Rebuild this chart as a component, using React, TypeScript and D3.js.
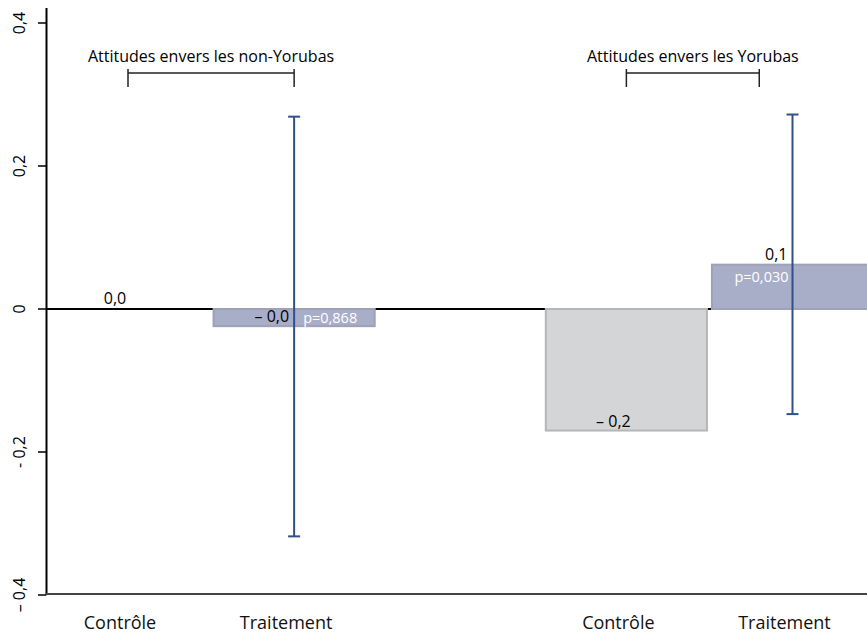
import React from "react";
import * as d3 from "d3";

const W = 867;
const H = 634;

// --- data ---
const groupTitles = ["Attitudes envers les non-Yorubas", "Attitudes envers les Yorubas"];
const groupBracketFrom = [0, 3];
const groupBracketTo = [1, 3.8];
const categories = ["Contrôle", "Traitement", "Contrôle", "Traitement"];
const arms = ["C", "T", "C", "T"];
const slots = [0, 1, 3, 4];
const values = [0.0, -0.024, -0.17, 0.062];
const valueLabels = ["0,0", "– 0,0", "– 0,2", "0,1"];
const ciLow: (number | null)[] = [null, -0.318, null, -0.147];
const ciHigh: (number | null)[] = [null, 0.269, null, 0.272];
const pLabels: (string | null)[] = [null, "p=0,868", null, "p=0,030"];
const yTicks = [0.4, 0.2, 0, -0.2, -0.4];
const yTickLabels = ["0,4", "0,2", "0", "- 0,2", "– 0,4"];

const FONT = "'Open Sans', sans-serif";

export default function App() {
  const x = d3.scaleLinear().domain([0, 4]).range([128, 792.5]);
  const y = d3.scaleLinear().domain([-0.4, 0.4]).range([595, 23]);
  const unit = x(1) - x(0);
  const bw = unit * 0.97;
  const axisX = 46.5;
  const y0 = y(0);

  return (
    <svg
      width={W}
      height={H}
      style={{ position: "absolute", left: 0, top: 0, background: "#fff" }}
      fontFamily={FONT}
    >
      {/* zero line */}
      <line x1={axisX} x2={W} y1={y0} y2={y0} stroke="#000" strokeWidth={2} />

      {/* bars */}
      {values.map((v, i) => {
        const cx = x(slots[i]);
        const top = Math.min(y(v), y0);
        const h = Math.abs(y(v) - y0);
        const isT = arms[i] === "T";
        if (h < 0.5) return null;
        return (
          <rect
            key={"b" + i}
            x={cx - bw / 2}
            y={top}
            width={bw}
            height={h}
            fill={isT ? "#a8adc8" : "#d4d5d7"}
            stroke={isT ? "#9ea2b6" : "#b5b6b8"}
            strokeWidth={2}
          />
        );
      })}

      {/* value labels */}
      {values.map((v, i) => {
        const cx = x(slots[i]);
        const isT = arms[i] === "T";
        let tx: number, ty: number, anchor: string;
        if (isT) {
          tx = cx - 5;
          anchor = "end";
          ty = v < 0 ? y0 + 13 : y(v) - 5;
        } else {
          tx = cx - 13;
          anchor = "middle";
          ty = v < -0.01 ? y(v) - 4 : y0 - 5;
        }
        return (
          <text key={"v" + i} x={tx} y={ty} fontSize={16} textAnchor={anchor} fill="#000">
            {valueLabels[i]}
          </text>
        );
      })}

      {/* p labels */}
      {pLabels.map((p, i) => {
        if (!p) return null;
        const cx = x(slots[i]);
        const v = values[i];
        const neg = v < 0;
        return (
          <text
            key={"p" + i}
            x={neg ? cx + 9 : cx - 4}
            y={neg ? y0 + 14 : y(v) + 17}
            fontSize={14.5}
            textAnchor={neg ? "start" : "end"}
            fill="#fff"
          >
            {p}
          </text>
        );
      })}

      {/* error bars */}
      {values.map((_, i) => {
        const lo = ciLow[i];
        const hi = ciHigh[i];
        if (lo === null || hi === null) return null;
        const cx = x(slots[i]);
        return (
          <g key={"e" + i} stroke="#2f5189" strokeWidth={2}>
            <line x1={cx} x2={cx} y1={y(hi)} y2={y(lo)} />
            <line x1={cx - 6} x2={cx + 6} y1={y(hi)} y2={y(hi)} />
            <line x1={cx - 6} x2={cx + 6} y1={y(lo)} y2={y(lo)} />
          </g>
        );
      })}

      {/* group brackets and titles */}
      {groupTitles.map((t, g) => {
        const a = x(groupBracketFrom[g]);
        const b = x(groupBracketTo[g]);
        return (
          <g key={"g" + g}>
            <text x={(a + b) / 2} y={62} fontSize={16} textAnchor="middle" fill="#000">
              {t}
            </text>
            <g stroke="#222" strokeWidth={1.5}>
              <line x1={a} x2={b} y1={73} y2={73} />
              <line x1={a} x2={a} y1={69} y2={87} />
              <line x1={b} x2={b} y1={69} y2={87} />
            </g>
          </g>
        );
      })}

      {/* y axis */}
      <line x1={axisX} x2={axisX} y1={8} y2={y(-0.4)} stroke="#000" strokeWidth={2} />
      {yTicks.map((t, i) => (
        <g key={"t" + i}>
          <line x1={38} x2={axisX} y1={y(t)} y2={y(t)} stroke="#000" strokeWidth={1.5} />
          <text
            transform={`translate(25,${y(t)}) rotate(-90)`}
            fontSize={16}
            textAnchor="middle"
            fill="#000"
          >
            {yTickLabels[i]}
          </text>
        </g>
      ))}

      {/* x axis */}
      <line x1={axisX - 1} x2={W} y1={y(-0.4) - 1} y2={y(-0.4) - 1} stroke="#444" strokeWidth={2} />
      {categories.map((c, i) => (
        <text key={"c" + i} x={x(slots[i]) - 8} y={629} fontSize={18} textAnchor="middle" fill="#111">
          {c}
        </text>
      ))}
    </svg>
  );
}
